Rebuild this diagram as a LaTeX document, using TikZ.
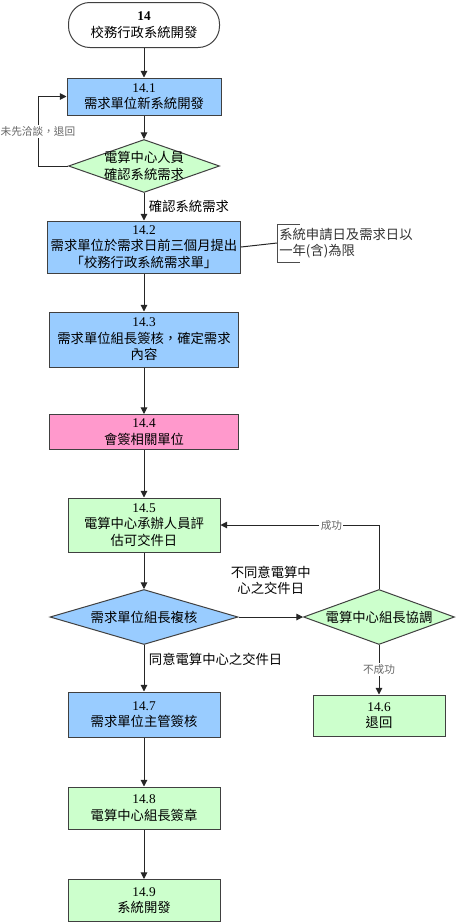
\documentclass[tikz,border=0pt]{standalone}
\usepackage{fontspec}
\setmainfont{Liberation Serif}
\newfontfamily\cjk{Noto Sans CJK TC}
\usepackage{xcolor}
\usetikzlibrary{shapes.geometric,arrows.meta}
\definecolor{reqblue}{HTML}{99CCFF}
\definecolor{ccgreen}{HTML}{CCFFCC}
\definecolor{signpink}{HTML}{FF99CC}
\newcommand{\stepno}[1]{{\rmfamily #1}}

\begin{document}
\begin{tikzpicture}[x=0.75pt,y=-0.75pt,
    font=\cjk\fontsize{10}{12.4}\selectfont,
    box/.style={draw=black!75,line width=0.75pt,align=center,inner sep=1pt},
    dia/.style={diamond,draw=black!75,line width=0.75pt,inner sep=0pt},
    arr/.style={draw=black!85,line width=0.75pt,-{Triangle[length=5pt,width=5pt]}},
    lbl/.style={font=\cjk\fontsize{8}{9}\selectfont,text=black!60,fill=white,inner sep=1pt}]
    \useasboundingbox (0,0) rectangle (456,922);

    % steps
    \node[box,rounded corners=16pt,minimum width=113.25pt,minimum height=33.75pt] (start) at (144,25) {\stepno{\bfseries 14}\\校務行政系統開發};
    \node[box,fill=reqblue,minimum width=115.5pt,minimum height=27.75pt] (s141) at (144,96.5) {\stepno{14.1}\\需求單位新系統開發};
    \node[dia,fill=ccgreen,minimum width=113.25pt,minimum height=39.75pt,
        label={[align=center]center:電算中心人員\\確認系統需求}] (d1) at (144,166) {};
    \node[box,fill=reqblue,minimum width=144.75pt,minimum height=39pt] (s142) at (144,247) {\stepno{14.2}\\需求單位於需求日前三個月提出\\「校務行政系統需求單」};
    \node[box,fill=reqblue,minimum width=141.75pt,minimum height=41.25pt] (s143) at (144,339.5) {\stepno{14.3}\\需求單位組長簽核，確定需求\\內容};
    \node[box,fill=signpink,minimum width=141.75pt,minimum height=26.25pt] (s144) at (144,432) {\stepno{14.4}\\會簽相關單位};
    \node[box,fill=ccgreen,minimum width=114pt,minimum height=40.5pt] (s145) at (144,525) {\stepno{14.5}\\電算中心承辦人員評\\估可交件日};
    \node[dia,fill=reqblue,minimum width=141pt,minimum height=41.25pt,
        label={center:需求單位組長複核}] (d2) at (144,617) {};
    \node[dia,fill=ccgreen,minimum width=113.25pt,minimum height=41.25pt,
        label={center:電算中心組長協調}] (d3) at (379,617) {};
    \node[box,fill=ccgreen,minimum width=99pt,minimum height=30.75pt] (s146) at (379,715.5) {\stepno{14.6}\\退回};
    \node[box,fill=reqblue,minimum width=114pt,minimum height=33.75pt] (s147) at (144,714.5) {\stepno{14.7}\\需求單位主管簽核};
    \node[box,fill=ccgreen,minimum width=114pt,minimum height=31.5pt] (s148) at (144,808) {\stepno{14.8}\\電算中心組長簽章};
    \node[box,fill=ccgreen,minimum width=114pt,minimum height=31.5pt] (s149) at (144,900.5) {\stepno{14.9}\\系統開發};

    % note on 14.2
    \coordinate (brk) at (277,243);
    \node[anchor=west,align=left,inner sep=0pt,text=black!80] (note) at (279,243) {系統申請日及需求日以\\一年(含)為限};
    \draw[draw=black!85,line width=0.75pt] (s142.east) -- (brk);
    \draw[draw=black!70,line width=0.75pt] (brk) |- ++(23,-19);
    \draw[draw=black!70,line width=0.75pt] (brk) |- ++(23,19);

    % connectors
    \draw[arr] (start.south) -- (s141.north);
    \draw[arr] (s141.south) -- (d1.north);
    \draw[arr] (d1.west) -- ++(-30,0) |- (s141.west) node[lbl,pos=0.25] {未先洽談，退回};
    \draw[arr] (d1.south) -- (s142.north) node[midway,right] {確認系統需求};
    \draw[arr] (s142.south) -- (s143.north);
    \draw[arr] (s143.south) -- (s144.north);
    \draw[arr] (s144.south) -- (s145.north);
    \draw[arr] (s145.south) -- (d2.north);
    \draw[arr] (d2.east) -- (d3.west) node[midway,above=13pt,align=center] {不同意電算中\\心之交件日};
    \draw[arr] (d3.north) |- (s145.east) node[lbl,pos=0.65] {成功};
    \draw[arr] (d3.south) -- (s146.north) node[lbl,midway] {不成功};
    \draw[arr] (d2.south) -- (s147.north) node[right,pos=0.3] {同意電算中心之交件日};
    \draw[arr] (s147.south) -- (s148.north);
    \draw[arr] (s148.south) -- (s149.north);
\end{tikzpicture}
\end{document}
